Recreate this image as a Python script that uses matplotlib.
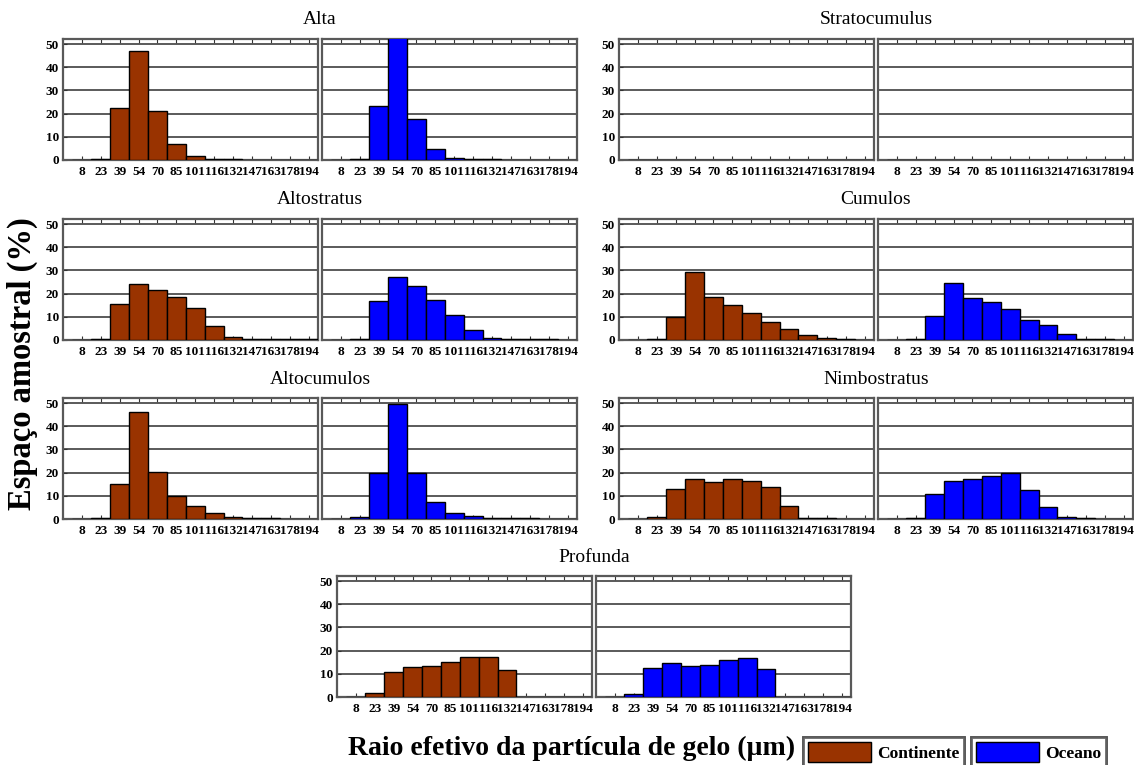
import matplotlib.pyplot as plt
from matplotlib.patches import Patch

# Histograms of ice particle effective radius per cloud type (% of samples)
raio = [8, 23, 39, 54, 70, 85, 101, 116, 132, 147, 163, 178, 194]

alta_cont = [0, 0.3, 22.5, 47.0, 21.0, 7.0, 1.7, 0.4, 0.3, 0, 0, 0, 0]
alta_oce = [0, 0.3, 23.5, 54.0, 17.5, 4.7, 0.8, 0.4, 0.3, 0, 0, 0, 0]

strato_cont = [0] * 13
strato_oce = [0] * 13

altostr_cont = [0, 0.3, 15.5, 24.0, 21.5, 18.6, 13.7, 6.0, 1.2, 0.3, 0.3, 0.3, 0.3]
altostr_oce = [0, 0.3, 16.9, 27.2, 23.3, 17.2, 11.0, 4.2, 0.7, 0.3, 0.3, 0.3, 0]

cumulos_cont = [0, 0.3, 10.0, 29.5, 18.7, 15.1, 11.5, 7.8, 4.7, 2.0, 0.9, 0.3, 0]
cumulos_oce = [0, 0.3, 10.5, 24.4, 18.2, 16.4, 13.2, 8.7, 6.4, 2.5, 0.3, 0.3, 0]

altocu_cont = [0, 0.3, 15.2, 46.0, 20.1, 10.0, 5.5, 2.5, 0.8, 0.3, 0.3, 0, 0]
altocu_oce = [0, 0.8, 20.0, 49.7, 20.0, 7.4, 2.5, 1.2, 0.3, 0.3, 0.3, 0, 0]

nimbo_cont = [0, 0.8, 13.0, 17.1, 16.1, 17.4, 16.2, 13.9, 5.5, 0.3, 0.3, 0, 0]
nimbo_oce = [0, 0.3, 10.9, 16.2, 17.1, 18.4, 20.0, 12.6, 5.1, 0.7, 0.3, 0, 0]

prof_cont = [0, 1.9, 10.7, 12.8, 13.4, 15.1, 17.3, 17.3, 11.5, 0, 0, 0, 0]
prof_oce = [0, 1.3, 12.4, 14.7, 13.3, 13.8, 16.1, 16.9, 12.1, 0, 0, 0, 0]

# title, continent, ocean, left x of continent panel (px), top y (px)
paineis = [
    ("Alta", alta_cont, alta_oce, 63, 39),
    ("Stratocumulus", strato_cont, strato_oce, 619, 39),
    ("Altostratus", altostr_cont, altostr_oce, 63, 219),
    ("Cumulos", cumulos_cont, cumulos_oce, 619, 219),
    ("Altocumulos", altocu_cont, altocu_oce, 63, 398),
    ("Nimbostratus", nimbo_cont, nimbo_oce, 619, 398),
    ("Profunda", prof_cont, prof_oce, 337, 576),
]

COR_CONT = "#993300"
COR_OCE = "#0000ff"
SERIF = "Liberation Serif"

W, H = 1134, 765
fig = plt.figure(figsize=(W / 100, H / 100), dpi=100)


def px_axes(x, y, w, h):
    return fig.add_axes([x / W, 1 - (y + h) / H, w / W, h / H])


def desenha(ax, vals, cor, mostra_y):
    ax.bar(range(len(raio)), vals, width=1.0, color=cor, edgecolor="black",
           linewidth=1.0, zorder=3)
    ax.set_xlim(-1, 12.5)
    ax.set_ylim(0, 52.2)
    ax.set_yticks([0, 10, 20, 30, 40, 50])
    ax.set_xticks(range(len(raio)))
    ax.set_xticklabels(raio, fontsize=9.5, fontweight="bold", family=SERIF)
    ax.yaxis.grid(True, color="0.3", linewidth=1.3, zorder=0)
    ax.tick_params(axis="x", direction="in", top=True, bottom=True, length=3,
                   pad=4, color="0.2")
    ax.tick_params(axis="y", direction="in", length=3, pad=3, color="0.2")
    if mostra_y:
        ax.set_yticklabels([0, 10, 20, 30, 40, 50], fontsize=9.5,
                           fontweight="bold", family=SERIF)
    else:
        ax.set_yticklabels([])
        ax.tick_params(axis="y", left=False)
    for s in ax.spines.values():
        s.set_color("0.35")
        s.set_linewidth(1.6)


pw, ph, gap = 255, 121, 4
for titulo, cont, oce, x0, y0 in paineis:
    ax1 = px_axes(x0, y0, pw, ph)
    desenha(ax1, cont, COR_CONT, True)
    ax2 = px_axes(x0 + pw + gap, y0, pw, ph)
    desenha(ax2, oce, COR_OCE, False)
    fig.text((x0 + pw + gap / 2) / W, 1 - (y0 - 19) / H, titulo,
             ha="center", va="center", fontsize=14, family=SERIF)

fig.text(22 / W, 1 - 364 / H, "Espaço amostral (%)", rotation=90,
         ha="center", va="center", fontsize=23.5, fontweight="bold", family=SERIF)
fig.text(572 / W, 1 - 748 / H, "Raio efetivo da partícula de gelo (µm)",
         ha="center", va="center", fontsize=20, fontweight="bold", family=SERIF)

# two separate boxed legends, one per surface type
for rotulo, cor, xl in [("Continente", COR_CONT, 803), ("Oceano", COR_OCE, 971)]:
    leg = fig.legend(handles=[Patch(facecolor=cor, edgecolor="black", label=rotulo)],
                     loc="lower left", bbox_to_anchor=(xl / W, -0.003),
                     frameon=True, fancybox=False, handlelength=3.6,
                     handleheight=1.4, handletextpad=0.35, borderpad=0.3,
                     borderaxespad=0,
                     prop={"family": SERIF, "weight": "bold", "size": 12.5})
    leg.get_frame().set_edgecolor("0.3")
    leg.get_frame().set_linewidth(2)
    fig.add_artist(leg)

fig.savefig("out.png", dpi=100)
